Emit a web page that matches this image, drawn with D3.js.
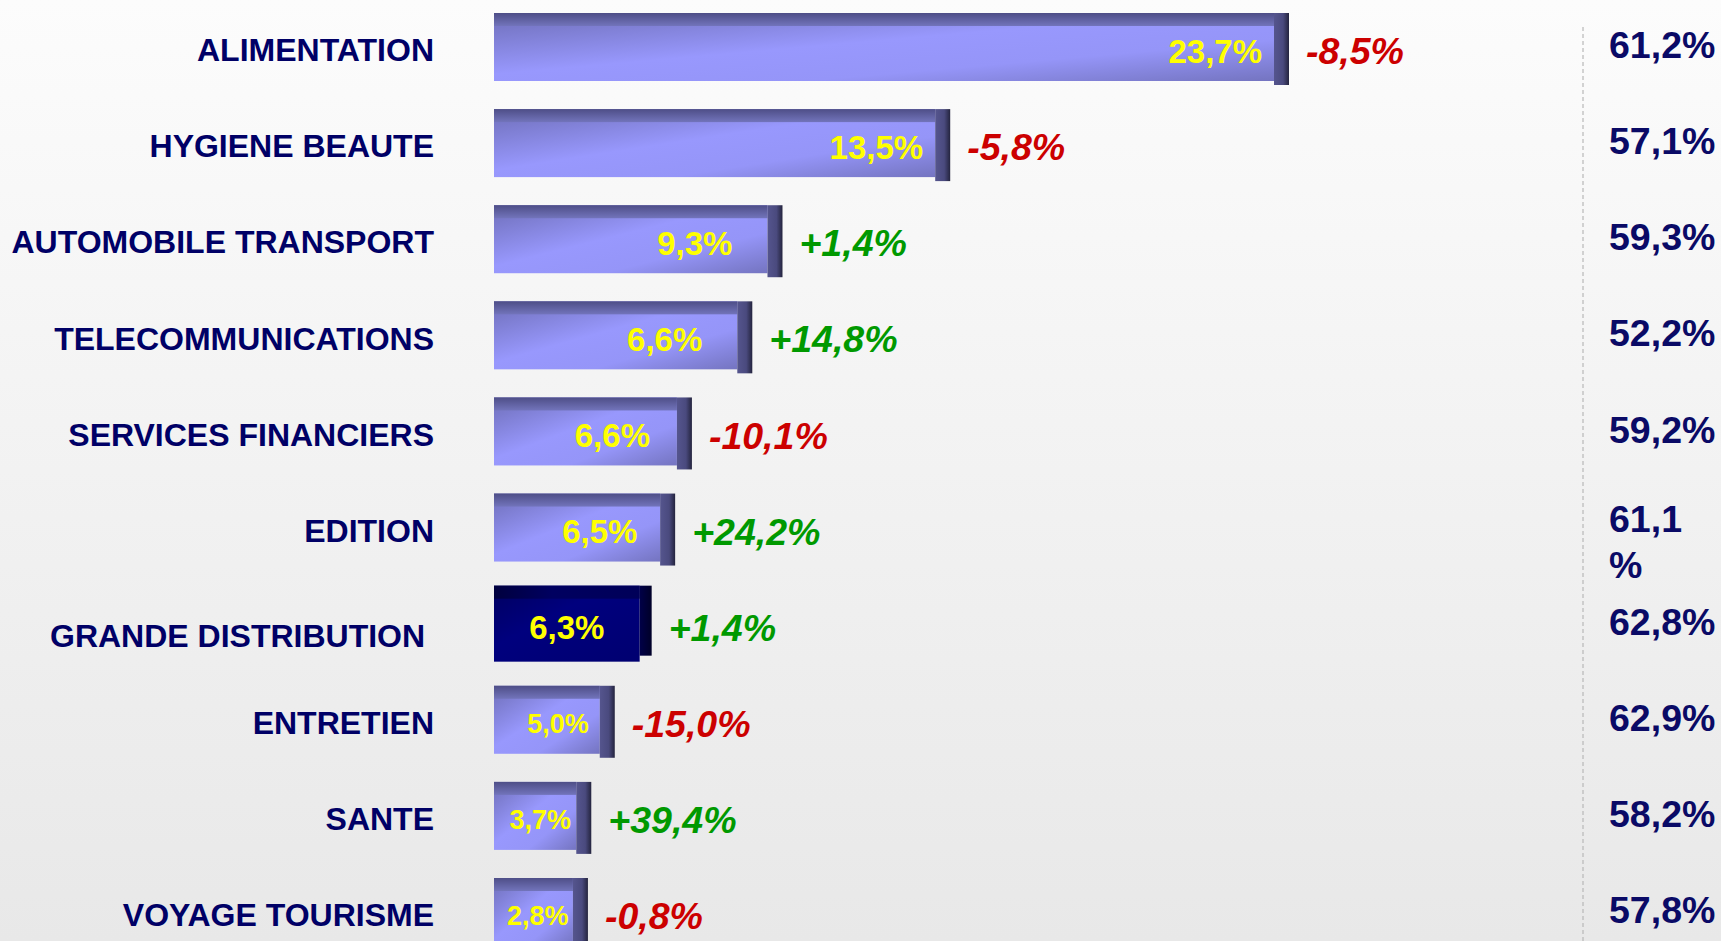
<!DOCTYPE html>
<html>
<head>
<meta charset="utf-8">
<script src="https://cdn.jsdelivr.net/npm/d3@7"></script>
<style>
body { margin: 0; }
text { font-family: "Liberation Sans", Arial, sans-serif; font-weight: bold; }
</style>
</head>
<body>
<div id="chart"></div>
<script>
// categories, top to bottom
var categories = ["ALIMENTATION", "HYGIENE BEAUTE", "AUTOMOBILE TRANSPORT", "TELECOMMUNICATIONS",
    "SERVICES FINANCIERS", "EDITION", "GRANDE DISTRIBUTION ", "ENTRETIEN", "SANTE", "VOYAGE TOURISME"];
// labels written inside the bars
var partLabels = ["23,7%", "13,5%", "9,3%", "6,6%", "6,6%", "6,5%", "6,3%", "5,0%", "3,7%", "2,8%"];
// bar lengths as drawn on the slide (same % units)
var barLength = [23.7, 13.6, 8.6, 7.7, 5.9, 5.4, 4.7, 3.6, 2.9, 2.8];
// evolution labels
var evolution = ["-8,5%", "-5,8%", "+1,4%", "+14,8%", "-10,1%", "+24,2%", "+1,4%", "-15,0%", "+39,4%", "-0,8%"];
// right column
var rightValues = ["61,2%", "57,1%", "59,3%", "52,2%", "59,2%", "61,1 %", "62,8%", "62,9%", "58,2%", "57,8%"];
var highlighted = "GRANDE DISTRIBUTION";

var width = 1721, height = 941;

var data = categories.map(function(c, i){
    return {cat: c, part: partLabels[i], len: barLength[i], evo: evolution[i], right: rightValues[i],
            hi: c.trim() === highlighted};
});

var svg = d3.select("#chart")
    .append("svg")
        .attr("width", width)
        .attr("height", height);

var defs = svg.append("defs");

function gradient(id, x2, y2, stops){
    var g = defs.append("linearGradient")
        .attr("id", id)
        .attr("x1", 0).attr("y1", 0)
        .attr("x2", x2).attr("y2", y2);
    stops.forEach(function(s){
        g.append("stop").attr("offset", s[0]).attr("stop-color", s[1]);
    });
}

gradient("bg", 0, 1, [[0, "#fcfcfc"], [1, "#e8e8e8"]]);
gradient("body", 1, 1, [[0, "#6e6eb8"], [0.45, "#9898fd"], [0.7, "#9595f8"], [1, "#7474c0"]]);
gradient("band", 0, 1, [[0, "#4e4e87"], [1, "#7274bb"]]);
gradient("cap", 1, 0, [[0, "#55558e"], [0.6, "#4a4a7e"], [1, "#24243e"]]);
gradient("bodyHi", 1, 1, [[0, "#000060"], [0.4, "#00007e"], [1, "#000070"]]);
gradient("bandHi", 1, 0, [[0, "#00003e"], [0.4, "#000060"], [1, "#000058"]]);
gradient("capHi", 1, 0, [[0, "#000048"], [1, "#000028"]]);

svg.append("rect")
    .attr("width", width)
    .attr("height", height)
    .style("fill", "url(#bg)");

var xVerdi = d3.scaleLinear()
    .domain([0, 23.7])
    .range([494, 1289]);

var yVerdi = d3.scalePoint()
    .domain(categories)
    .range([47, 912]);

var barH = 68, bandH = 13;

// dashed separator
svg.append("line")
    .attr("x1", 1583).attr("x2", 1583)
    .attr("y1", 27).attr("y2", height)
    .style("stroke", "#b8b8b8")
    .style("stroke-width", 1.2)
    .style("stroke-dasharray", "4,3");

var rows = svg.append("g")
    .selectAll("g")
    .data(data)
    .enter()
    .append("g");

function barHoyde(d){ return d.hi ? 76 : barH; }
function barTopp(d){ return yVerdi(d.cat) - barHoyde(d) / 2; }
function barW(d){ return xVerdi(d.len) - xVerdi(0); }
function capW(d){ return d.hi ? 12 : 15; }

// bar body
rows.append("rect")
    .attr("x", xVerdi(0))
    .attr("y", barTopp)
    .attr("width", function(d){ return barW(d) - capW(d); })
    .attr("height", barHoyde)
    .style("fill", function(d){ return d.hi ? "url(#bodyHi)" : "url(#body)"; });

// darker top band
rows.append("rect")
    .attr("x", xVerdi(0))
    .attr("y", barTopp)
    .attr("width", function(d){ return barW(d) - capW(d); })
    .attr("height", bandH)
    .style("fill", function(d){ return d.hi ? "url(#bandHi)" : "url(#band)"; });

// right cap
rows.append("rect")
    .attr("x", function(d){ return xVerdi(d.len) - capW(d); })
    .attr("y", barTopp)
    .attr("width", capW)
    .attr("height", function(d){ return d.hi ? barHoyde(d) - 6 : barHoyde(d) + 4; })
    .style("fill", function(d){ return d.hi ? "url(#capHi)" : "url(#cap)"; });

// category names
rows.append("text")
    .attr("x", 434)
    .attr("y", function(d){ return yVerdi(d.cat) + (d.hi ? 12 : 3); })
    .attr("dy", "0.35em")
    .attr("text-anchor", "end")
    .attr("xml:space", "preserve")
    .style("font-size", "32px")
    .style("fill", "#000066")
    .text(function(d){ return d.cat; });

// share inside bar
rows.append("text")
    .attr("y", function(d){ return yVerdi(d.cat) + 4; })
    .attr("dy", "0.35em")
    .attr("text-anchor", "end")
    .style("font-size", function(d){ return (barW(d) - capW(d)) < 130 ? "27px" : "33px"; })
    .style("fill", "#ffff00")
    .text(function(d){ return d.part; })
    .attr("x", function(d){
        var bodyW = barW(d) - capW(d);
        var tw = this.getComputedTextLength();
        var gap;
        if (d.hi) gap = (bodyW - tw) / 2;
        else if (bodyW > 400) gap = 12;
        else gap = Math.max(4, Math.min(35, (bodyW - tw) / 4));
        return xVerdi(d.len) - capW(d) - gap;
    });

// evolution
rows.append("text")
    .attr("x", function(d){ return xVerdi(d.len) + 17; })
    .attr("y", function(d){ return yVerdi(d.cat) + 4; })
    .attr("dy", "0.35em")
    .style("font-size", "37.5px")
    .style("font-style", "italic")
    .style("fill", function(d){ return d.evo.charAt(0) === "-" ? "#cc0000" : "#009900"; })
    .text(function(d){ return d.evo; });

// right column, wrapped inside a narrow box
var boxW = 112;
rows.append("text")
    .attr("x", 1609)
    .attr("y", function(d){ return yVerdi(d.cat) - 2; })
    .style("font-size", "37.5px")
    .style("fill", "#0a0a66")
    .each(function(d){
        var t = d3.select(this);
        var tmp = t.append("tspan").text(d.right);
        var lines = [d.right];
        if (tmp.node().getComputedTextLength() > boxW) lines = d.right.split(" ");
        tmp.remove();
        var y0 = yVerdi(d.cat) - 2 - (lines.length - 1) * 7;
        lines.forEach(function(l, i){
            t.append("tspan")
                .attr("x", 1609)
                .attr("y", y0 + i * 46)
                .attr("dy", "0.35em")
                .text(l);
        });
    });
</script>
</body>
</html>
